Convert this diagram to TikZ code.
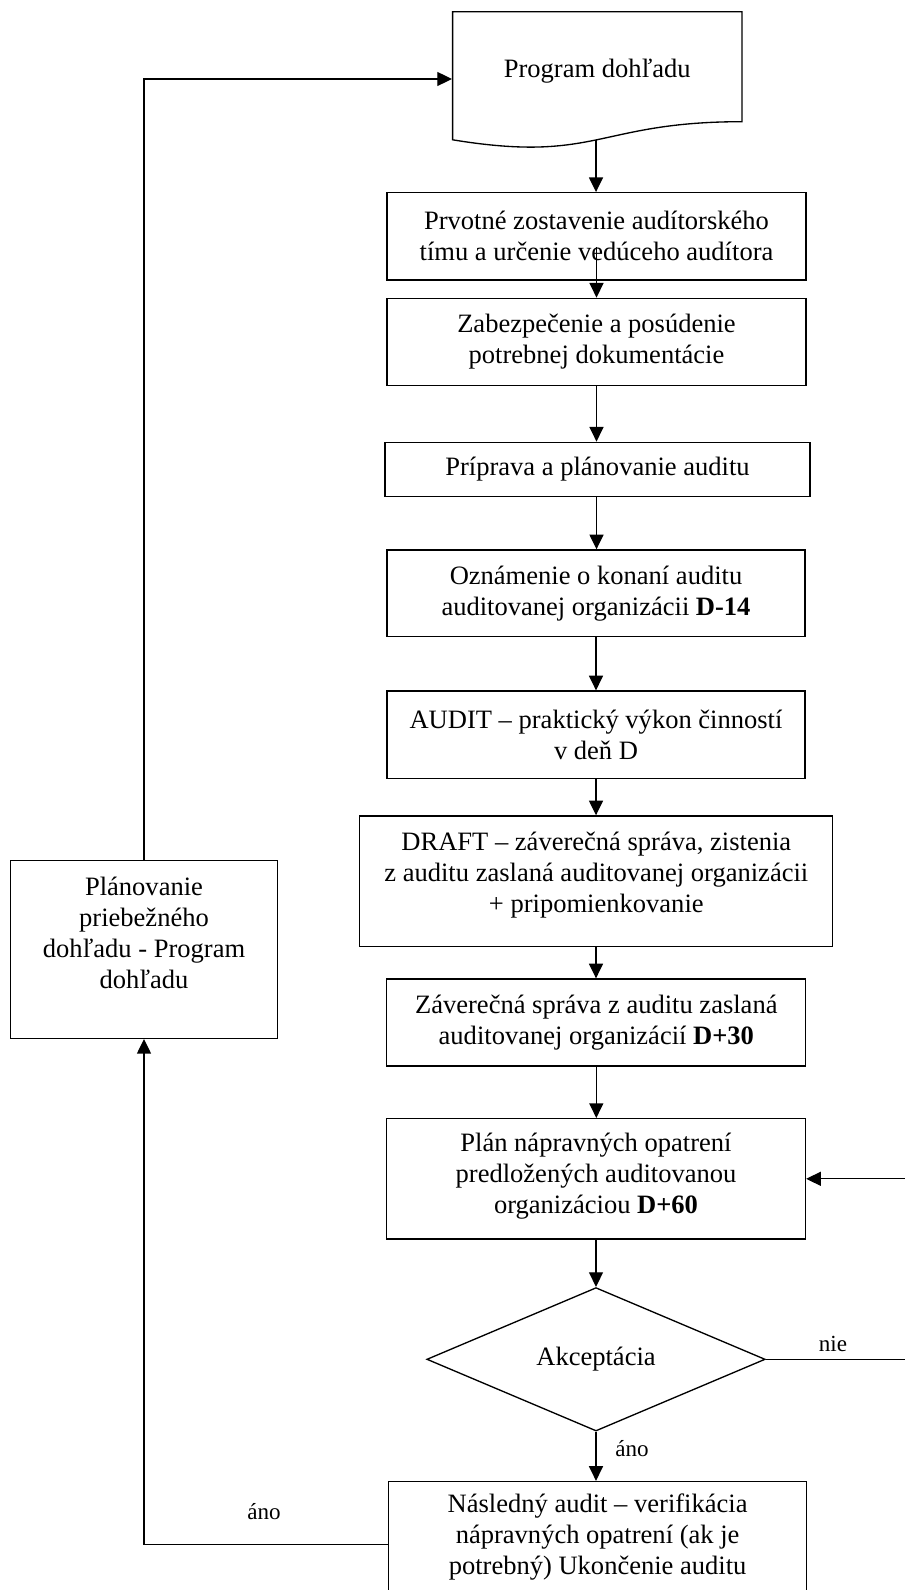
\documentclass[tikz,border=0pt]{standalone}
\usepackage{fontspec}
\setmainfont{Liberation Serif}
\usetikzlibrary{arrows.meta,shapes.geometric}
\begin{document}
\begin{tikzpicture}[x=0.75pt,y=-0.75pt,line width=1pt,
  txt/.style={align=center,inner sep=0pt,font=\fontsize{19.9}{23.25}\selectfont},
  box/.style={draw,rectangle,align=center,inner sep=0pt,font=\fontsize{19.9}{23.25}\selectfont},
  lbl/.style={inner sep=0pt,font=\fontsize{17.3}{20}\selectfont},
  arr/.style={-{Triangle[length=11pt,width=10.5pt]}}]
\path[fill=white,use as bounding box] (0,0) rectangle (904,1590);
% document shape
\draw (452.6,11.7) -- (742,11.7) -- (742,121.7) .. controls (597.3,121.7) and (597.3,163.6) .. (452.6,139.8) -- cycle;
\node[txt,minimum width=217pt] (doc) at (597.3,71) {Program dohľadu};
\coordinate (docb) at (596,139.7);
% boxes
\node[box,minimum width=314.25pt,minimum height=65.5pt] (b2) at (596.5,236.4) {Prvotné zostavenie audítorského\\tímu a určenie vedúceho audítora};
\node[box,minimum width=314.25pt,minimum height=65.5pt] (b3) at (596.5,342) {Zabezpečenie a posúdenie\\potrebnej dokumentácie};
\node[box,minimum width=318.75pt,minimum height=40.8pt] (b4) at (597.5,469.5) {Príprava a plánovanie auditu};
\node[box,minimum width=313.7pt,minimum height=65pt] (b5) at (596,593.3) {Oznámenie o konaní auditu\\auditovanej organizácii \textbf{D-14}};
\node[box,minimum width=313.7pt,minimum height=65.5pt] (b6) at (596,734.7) {AUDIT – praktický výkon činností\\v deň D};
\node[box,minimum width=354.75pt,minimum height=98pt] (b7) at (596.3,881.3) {};
\node[txt] (t7) at (596.3,875.5) {DRAFT – záverečná správa, zistenia\\z auditu zaslaná auditovanej organizácii\\+ pripomienkovanie};
\node[box,minimum width=314.25pt,minimum height=65.25pt] (b8) at (596.3,1022.5) {Záverečná správa z auditu zaslaná\\auditovanej organizácií \textbf{D+30}};
\node[box,minimum width=314.25pt,minimum height=90.2pt] (b9) at (596,1178.8) {};
\node[txt] (t9) at (596,1176) {Plán nápravných opatrení\\predložených auditovanou\\organizáciou \textbf{D+60}};
\node[draw,diamond,inner sep=0pt,minimum width=253.8pt,minimum height=97.5pt,font=\fontsize{19.9}{23.25}\selectfont] (acc) at (596,1359.3) {Akceptácia};
\node[box,minimum width=313.65pt,minimum height=82.9pt] (b10) at (597.6,1536.8) {Následný audit – verifikácia\\nápravných opatrení (ak je\\potrebný) Ukončenie auditu};
\node[box,minimum width=200pt,minimum height=133.2pt] (lb) at (144,949.5) {};
\node[txt] (tl) at (144,933) {Plánovanie\\priebežného\\dohľadu - Program\\dohľadu};
% labels
\node[lbl] (nie) at (833,1344) {nie};
\node[lbl] (ano1) at (632,1449) {áno};
\node[lbl] (ano2) at (264,1512) {áno};
% connectors
\draw[arr] (docb) -- (docb |- b2.north);
\draw[arr] ([yshift=-8.25pt]b2.center) -- (b2.center |- b3.north);
\draw[arr] (b3.south) -- (b3.south |- b4.north);
\draw[arr] (b3.south |- b4.south) -- (b3.south |- b5.north);
\draw[arr] (b5.south) -- (b6.north);
\draw[arr] (b6.south) -- (b6.south |- b7.north);
\draw[arr] (b6.south |- b7.south) -- (b6.south |- b8.north);
\draw[arr] (b8.south) -- (b8.south |- b9.north);
\draw[arr] (b9.south) -- (acc.north);
\draw[arr] (acc.south) -- (acc.south |- b10.north);
\draw[arr] (acc.east) -- ++(150,0) |- (b9.east);
\draw[arr] ([yshift=-5.8pt]b10.west) -| (lb.south);
\draw[arr] (lb.north) -- (lb.north |- 0,79) -- ([yshift=-6pt]doc.west);
\end{tikzpicture}
\end{document}
